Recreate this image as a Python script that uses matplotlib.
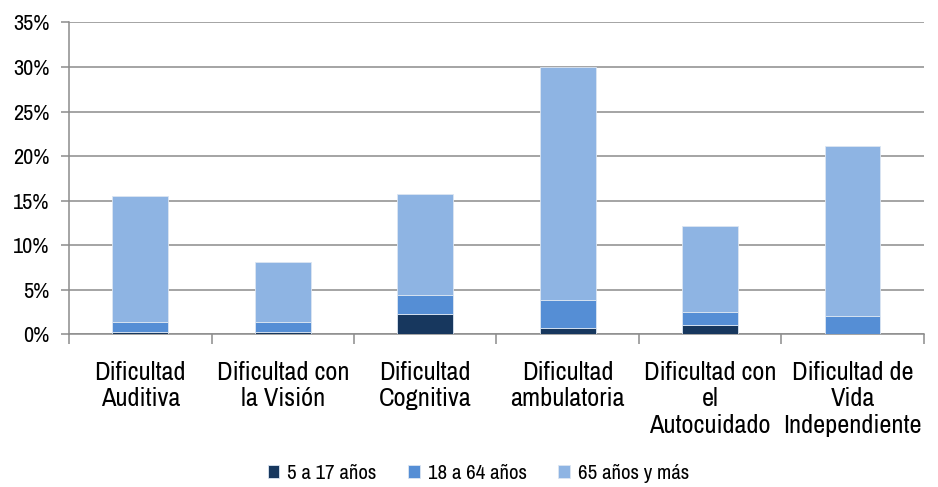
import matplotlib
matplotlib.use("Agg")
import matplotlib.pyplot as plt
from matplotlib.ticker import FuncFormatter, MultipleLocator
import numpy as np

plt.rcParams['font.family'] = ['Archivo Narrow', 'DejaVu Sans']

categories = [
    "Dificultad\nAuditiva",
    "Dificultad con\nla Visión",
    "Dificultad\nCognitiva",
    "Dificultad\nambulatoria",
    "Dificultad con\nel\nAutocuidado",
    "Dificultad de\nVida\nIndependiente",
]
series_names = ["5 a 17 años", "18 a 64 años", "65 años y más"]
age_5_17 = [0.30, 0.30, 2.25, 0.65, 1.00, 0.00]
age_18_64 = [1.10, 1.10, 2.20, 3.20, 1.55, 2.10]
age_65_plus = [14.10, 6.70, 11.30, 26.15, 9.65, 19.05]
colors = ["#17375E", "#558ED5", "#8EB4E3"]

fig = plt.figure(figsize=(9.38, 4.87), dpi=100)
ax = fig.add_axes([0.0736, 0.3136, 0.9114, 0.6402])

x = np.arange(len(categories))
bottom = np.zeros(len(categories))
for name, vals, col in zip(series_names, [age_5_17, age_18_64, age_65_plus], colors):
    ax.bar(x, vals, width=0.39, bottom=bottom, color=col, label=name,
           edgecolor="#DCE6F2", linewidth=0.6, zorder=3)
    bottom += np.array(vals)

ax.set_xlim(-0.5, len(categories) - 0.5)
ax.set_ylim(0, 35)
ax.yaxis.set_major_locator(MultipleLocator(5))
ax.yaxis.set_major_formatter(FuncFormatter(lambda v, p: f"{int(round(v))}%"))
ax.grid(axis="y", color="#8C8C8C", linewidth=1.1, zorder=0)

ax.set_xticks(x)
ax.set_xticklabels(categories, fontsize=19, linespacing=1.2)
ax.set_xticks(np.arange(len(categories) + 1) - 0.5, minor=True)
ax.tick_params(axis="x", which="major", length=0, pad=19)
ax.tick_params(axis="x", which="minor", length=7, color="#8C8C8C", width=1.1)
ax.tick_params(axis="y", length=6, color="#8C8C8C", width=1.1, labelsize=16, pad=8)

for side in ["top", "right"]:
    ax.spines[side].set_visible(False)
for side in ["left", "bottom"]:
    ax.spines[side].set_color("#8C8C8C")
    ax.spines[side].set_linewidth(1.1)

fig.legend(loc="center", bbox_to_anchor=(0.51, 0.028), ncol=3, frameon=False,
           fontsize=15, handlelength=0.55, handleheight=0.55, handletextpad=0.4,
           columnspacing=1.5)

fig.savefig("out.png", dpi=100)
